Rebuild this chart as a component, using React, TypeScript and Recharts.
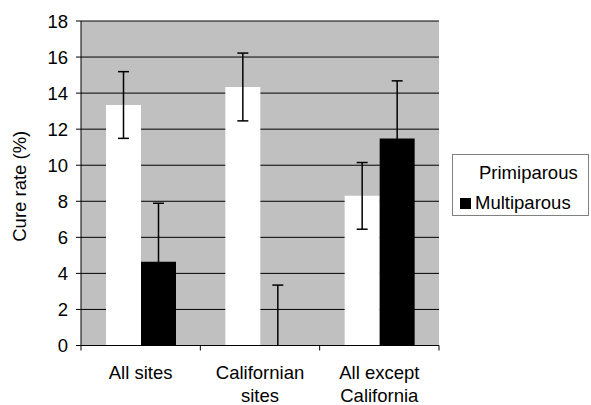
import React from "react";
import {
  BarChart,
  Bar,
  XAxis,
  YAxis,
  CartesianGrid,
  Legend,
} from "recharts";

const categories = ["All sites", "Californian sites", "All except California"];
const categoryLines = [["All sites"], ["Californian", "sites"], ["All except", "California"]];
const seriesNames = ["Primiparous", "Multiparous"];
const primiparous = [13.34, 14.34, 8.3];
const primiparousErr = [1.85, 1.88, 1.85];
const multiparous = [4.65, 0, 11.48];
const multiparousErr = [3.24, 3.35, 3.2];
const yTicks = [0, 2, 4, 6, 8, 10, 12, 14, 16, 18];

// error ranges are clipped at the axis (0), as in the original
const data = categories.map((c, i) => ({
  name: c,
  Primiparous: primiparous[i],
  Multiparous: multiparous[i],
  pRange: [Math.max(0, primiparous[i] - primiparousErr[i]), primiparous[i] + primiparousErr[i]],
  mRange: [Math.max(0, multiparous[i] - multiparousErr[i]), multiparous[i] + multiparousErr[i]],
}));

const FONT = "'Liberation Sans', Arial, sans-serif";
const FS = 18.5;
const CAP = 5.5;

const makeErrorShape = (rangeKey: string) => (props: any) => {
  const { x, y, width, height, payload } = props;
  if (x == null || y == null) return <g />;
  const cx = x + width / 2;
  const top = Math.min(y, y + height);
  const bottom = Math.max(y, y + height);
  const range = payload ? payload[rangeKey] : null;
  const showBottomCap = range ? range[0] > 0 : true;
  return (
    <g stroke="#000" strokeWidth={1.5} fill="none">
      <line x1={cx} y1={top} x2={cx} y2={bottom} />
      <line x1={cx - CAP} y1={top} x2={cx + CAP} y2={top} />
      {showBottomCap && <line x1={cx - CAP} y1={bottom} x2={cx + CAP} y2={bottom} />}
    </g>
  );
};

const CategoryTick = (props: any) => {
  const { x, y, payload, index } = props;
  const half = payload && payload.offset > 0 ? payload.offset : 59.67;
  const axisY = y - 5;
  const lines = categoryLines[index] || [payload.value];
  return (
    <g>
      <line x1={x - half} y1={axisY} x2={x - half} y2={axisY + 5} stroke="#000" strokeWidth={1} />
      {index === categories.length - 1 && (
        <line x1={x + half} y1={axisY} x2={x + half} y2={axisY + 5} stroke="#000" strokeWidth={1} />
      )}
      <text x={x} y={axisY} textAnchor="middle" fill="#000" fontFamily={FONT} fontSize={FS}>
        {lines.map((l: string, i: number) => (
          <tspan key={i} x={x} dy={i === 0 ? 33.5 : 22.5}>
            {l}
          </tspan>
        ))}
      </text>
    </g>
  );
};

const YLabel = (props: any) => {
  const vb = props.viewBox || { x: 0, y: 21, width: 81, height: 324.5 };
  const cx = vb.x + 19;
  const cy = vb.y + vb.height / 2 + 3;
  return (
    <text
      x={cx}
      y={cy}
      transform={`rotate(-90 ${cx} ${cy})`}
      textAnchor="middle"
      dominantBaseline="central"
      fill="#000"
      fontFamily={FONT}
      fontSize={FS}
    >
      Cure rate (%)
    </text>
  );
};

const renderLegend = (props: any) => {
  const payload = [...(props.payload || [])]
    .filter((p: any) => seriesNames.includes(p.value))
    .sort((a: any, b: any) => seriesNames.indexOf(a.value) - seriesNames.indexOf(b.value));
  return (
    <div
      style={{
        width: 137,
        height: 62,
        border: "1px solid #808080",
        boxSizing: "border-box",
        background: "#fff",
        position: "relative",
        fontFamily: FONT,
        fontSize: FS,
        color: "#000",
      }}
    >
      {payload.map((entry: any, i: number) => (
        <div
          key={i}
          style={{
            position: "absolute",
            left: 7,
            top: 7 + i * 30,
            height: 22,
            display: "flex",
            alignItems: "center",
            whiteSpace: "nowrap",
          }}
        >
          <span
            style={{
              display: "inline-block",
              width: 11,
              height: 11,
              background: entry.color,
              marginRight: i === 0 ? 8 : 4,
            }}
          />
          <span>{entry.value}</span>
        </div>
      ))}
    </div>
  );
};

export default function App() {
  return (
    <div style={{ position: "absolute", left: 0, top: 0, background: "#fff" }}>
      <BarChart
        width={591}
        height={405}
        data={data}
        margin={{ top: 21, right: 152, left: 0, bottom: 0 }}
        barGap={0}
        barSize={35}
      >
        <CartesianGrid
          vertical={false}
          horizontal={true}
          stroke="#000"
          strokeWidth={1}
          fill="#C0C0C0"
          fillOpacity={1}
        />
        <XAxis
          dataKey="name"
          height={59.5}
          axisLine={{ stroke: "#000" }}
          tickLine={false}
          tickSize={5}
          tickMargin={0}
          interval={0}
          tick={<CategoryTick />}
        />
        <XAxis xAxisId="err" dataKey="name" hide />
        <YAxis
          width={81}
          domain={[0, 18]}
          ticks={yTicks}
          axisLine={{ stroke: "#000" }}
          tickLine={{ stroke: "#000" }}
          tickSize={5}
          tickMargin={8}
          tick={{ fill: "#000", fontFamily: FONT, fontSize: FS }}
          label={<YLabel />}
        />
        <YAxis
          yAxisId="r"
          orientation="right"
          width={0}
          domain={[0, 18]}
          tick={false}
          tickLine={false}
          axisLine={{ stroke: "#808080" }}
        />
        <Legend
          layout="vertical"
          align="center"
          verticalAlign="middle"
          content={renderLegend}
          wrapperStyle={{ position: "absolute", left: 452, top: 154, width: 137, height: 62 }}
        />
        <Bar dataKey="Primiparous" name="Primiparous" fill="#FFFFFF" isAnimationActive={false} />
        <Bar dataKey="Multiparous" name="Multiparous" fill="#000000" isAnimationActive={false} />
        <Bar
          xAxisId="err"
          dataKey="pRange"
          name="pErr"
          legendType="none"
          fill="none"
          shape={makeErrorShape("pRange")}
          isAnimationActive={false}
        />
        <Bar
          xAxisId="err"
          dataKey="mRange"
          name="mErr"
          legendType="none"
          fill="none"
          shape={makeErrorShape("mRange")}
          isAnimationActive={false}
        />
      </BarChart>
    </div>
  );
}
